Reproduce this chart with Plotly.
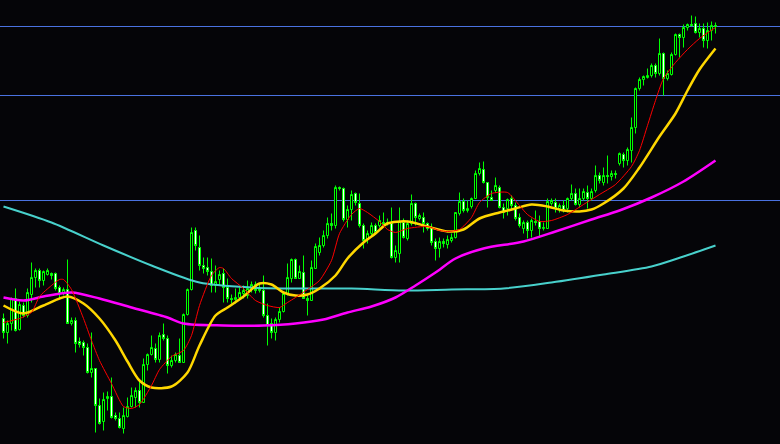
import plotly.graph_objects as go

# ---- candle data (index = bar number, values in price points) ----
opens = [126,112,121,146,115,139,129,150,167,174,
         164,170,171,171,157,151,155,121,124,103,
         102,97,72,76,39,23,46,48,29,26,
         16,28,38,47,54,42,80,90,96,85,
         110,106,79,84,89,82,130,155,214,197,
         179,177,173,159,165,171,157,146,145,147,
         151,149,156,160,154,154,129,121,112,125,
         133,151,166,185,166,172,146,144,176,192,
         199,209,221,219,257,256,225,235,251,241,
         219,205,211,219,219,222,221,221,187,191,
         222,206,221,241,226,227,221,217,203,196,
         203,200,204,207,231,243,234,238,246,271,
         275,262,247,254,257,237,236,246,239,227,
         216,222,214,223,223,216,216,241,242,236,
         239,236,246,251,240,246,252,246,254,269,
         262,269,268,271,281,290,284,294,317,356,
         365,367,369,379,371,391,366,370,390,410,
         407,417,420,421,412,416,404,414,419]
closes = [112,121,146,114,140,129,152,167,174,164,
          173,174,169,156,151,155,121,124,101,100,
          97,72,76,39,21,45,48,27,26,17,
          29,38,49,54,42,80,90,97,85,109,
          106,79,84,90,82,130,155,212,199,179,
          176,173,159,163,170,157,146,145,147,152,
          154,156,160,154,156,129,119,112,125,133,
          151,167,185,166,173,146,144,177,198,199,
          209,221,219,257,256,225,235,250,242,219,
          204,211,219,212,224,221,222,187,194,223,
          207,221,241,227,229,221,216,202,196,203,
          201,205,207,232,243,234,236,246,271,276,
          262,247,244,259,237,232,245,239,226,219,
          222,214,224,222,216,217,243,244,236,239,
          234,246,251,240,246,253,246,253,269,264,
          269,268,271,270,291,284,295,317,356,365,
          368,369,379,371,391,366,371,390,410,407,
          417,420,419,412,416,404,414,419,418]
highs = [131,124,147,156,143,142,156,182,176,176,
         174,176,172,172,159,157,185,127,127,107,
         104,101,112,76,46,52,53,67,32,32,
         37,47,57,57,64,86,91,109,101,112,
         121,109,89,92,106,131,156,217,217,209,
         187,187,186,179,174,176,166,150,156,157,
         159,164,163,163,161,169,141,126,127,137,
         152,181,186,186,179,189,149,184,201,207,
         214,227,231,259,258,257,239,254,252,251,
         221,214,222,221,229,232,226,237,199,237,
         226,224,250,242,231,232,222,221,206,207,
         206,209,211,232,252,246,244,247,274,282,
         283,262,254,267,259,241,246,249,242,231,
         224,224,226,234,229,222,246,246,246,241,
         244,247,260,256,256,256,259,256,279,272,
         277,289,274,274,292,292,297,327,357,367,
         369,376,381,381,406,392,374,392,411,411,
         420,421,429,428,421,421,422,423,422]
lows = [106,101,114,113,114,127,127,142,157,157,
        159,169,165,154,146,149,121,119,92,97,
        89,71,67,12,20,14,34,26,24,16,
        11,27,37,37,37,42,74,89,82,82,
        104,71,77,82,82,82,129,154,194,174,
        171,169,152,152,159,142,142,141,141,146,
        146,146,152,151,152,127,99,106,104,122,
        132,149,162,166,166,146,129,144,176,189,
        197,206,214,216,254,223,217,224,239,217,
        196,201,209,211,217,219,219,186,182,182,
        206,204,219,219,224,212,214,199,184,187,
        197,196,202,206,229,232,232,236,246,269,
        261,237,244,252,236,226,229,234,224,217,
        211,206,207,219,207,214,216,239,232,232,
        232,232,244,239,237,244,236,244,252,261,
        259,261,264,266,279,277,279,282,311,354,
        359,366,367,367,369,349,364,369,389,387,
        397,414,418,411,407,397,396,404,411]
bars = list(range(len(opens)))

# ---- moving averages (bar index, value) ----
fast_ma_idx = [0,4,7,9,12,14,15,17,20,22,24,27,30,32,34,37,39,42,45,47,49,52,54,55,57,60,63,66,69,71,73,76,79,82,84,87,89,91,94,96,98,101,106,109,111,114,117,119,122,126,129,131,134,137,141,145,149,153,157,159,161,163,165,168,171,174,178]
fast_ma = [122,126,132,148,159,165,165,155,126,104,84,61,38,36,40,59,75,88,94,109,139,169,177,176,166,156,144,139,137,142,147,155,164,184,211,230,236,232,223,215,212,216,218,214,213,215,227,242,251,252,239,230,223,224,230,240,250,260,278,294,319,344,366,382,395,406,417]

mid_ma_idx = [0,5,10,16,20,24,28,31,34,37,42,46,49,53,56,60,64,67,70,73,76,79,83,86,90,93,96,101,106,111,115,119,124,128,132,136,140,144,147,150,155,159,164,168,171,174,178]
mid_ma = [139,131,139,148,141,126,104,83,64,57,58,72,99,129,137,148,161,160,152,149,150,156,169,186,202,211,221,223,218,213,215,226,232,236,240,238,234,233,235,241,256,277,308,331,354,375,396]

slow_ma_idx = [0,5,10,17,24,32,41,45,55,65,73,80,86,92,98,103,108,113,120,130,138,147,154,162,170,178]
slow_ma = [147,144,148,152,146,137,127,121,119,119,121,125,132,138,147,159,172,186,196,203,213,225,234,247,263,284]

long_ma_idx = [0,12,25,37,49,62,75,87,100,112,125,137,150,162,170,178]
long_ma = [238,222,199,179,162,157,156,156,154,155,156,162,170,178,188,199]

levels = [418, 349, 244]

fig = go.Figure()
fig.add_trace(go.Candlestick(
    x=bars, open=opens, high=highs, low=lows, close=closes,
    increasing=dict(line=dict(color="#00ff00", width=1), fillcolor="#000000"),
    decreasing=dict(line=dict(color="#00ff00", width=1), fillcolor="#ffffff"),
    whiskerwidth=0, showlegend=False, hoverinfo="skip"))

for lv in levels:
    fig.add_hline(y=lv, line=dict(color="#4a72e0", width=1), layer="below")

fig.add_trace(go.Scatter(x=long_ma_idx, y=long_ma, mode="lines",
                         line=dict(color="#48d1cc", width=2, shape="spline", smoothing=0.8),
                         showlegend=False, hoverinfo="skip"))
fig.add_trace(go.Scatter(x=slow_ma_idx, y=slow_ma, mode="lines",
                         line=dict(color="#ff00ff", width=2.5, shape="spline", smoothing=0.8),
                         showlegend=False, hoverinfo="skip"))
fig.add_trace(go.Scatter(x=mid_ma_idx, y=mid_ma, mode="lines",
                         line=dict(color="#ffd700", width=2.5, shape="spline", smoothing=0.8),
                         showlegend=False, hoverinfo="skip"))
fig.add_trace(go.Scatter(x=fast_ma_idx, y=fast_ma, mode="lines",
                         line=dict(color="#ff0000", width=1, shape="spline", smoothing=0.6),
                         showlegend=False, hoverinfo="skip"))

fig.update_layout(
    width=780, height=444,
    margin=dict(l=0, r=0, t=0, b=0),
    paper_bgcolor="#050508", plot_bgcolor="#050508",
    boxgap=0.5, boxgroupgap=0,
    xaxis=dict(range=[-0.875, 194.125], visible=False, rangeslider=dict(visible=False),
               showgrid=False, zeroline=False),
    yaxis=dict(range=[0.5, 444.5], visible=False, showgrid=False, zeroline=False),
)
fig.write_html("out.html", config={"displayModeBar": False, "staticPlot": True},
               post_script="document.body.style.margin='0px';document.body.style.overflow='hidden';document.body.style.background='#050508';")
